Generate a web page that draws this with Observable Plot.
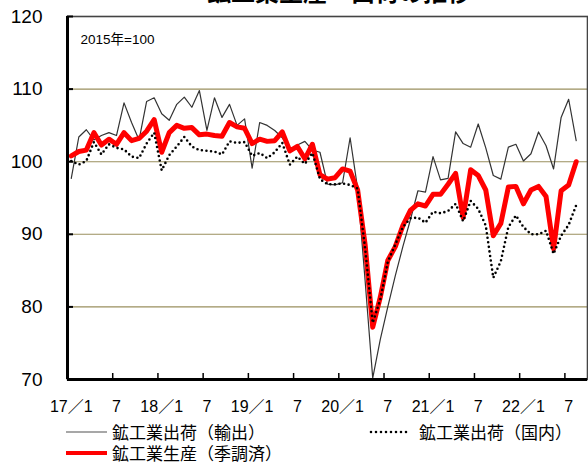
<!DOCTYPE html>
<html>
<head>
<meta charset="utf-8">
<script src="https://cdn.jsdelivr.net/npm/d3@7"></script>
<script src="https://cdn.jsdelivr.net/npm/@observablehq/plot@0.6"></script>
<style>
  html, body { margin: 0; padding: 0; background: #fff; }
  body { width: 588px; height: 462px; overflow: hidden; position: relative;
         font-family: "Liberation Sans", "Noto Sans CJK JP", sans-serif; color: #000; }
  #title { position: absolute; z-index: 2; top: -21px; left: 0; width: 588px; text-align: center;
           font: bold 24px "Noto Sans CJK JP"; line-height: 24px; padding-left: 90px; box-sizing: border-box; }
  #chart { position: absolute; z-index: 1; top: 0; left: 0; }
  .lg { position: absolute; z-index: 2; font-size: 17px; font-family: "Noto Sans CJK JP"; line-height: 18px; white-space: nowrap; }
  .sw { position: absolute; z-index: 2; }
</style>
</head>
<body>
<div id="chart"></div>
<div id="title">鉱工業生産・出荷の推移</div>
<svg class="sw" style="left:66px;top:429px" width="42" height="6"><line x1="0" y1="3" x2="41" y2="3" stroke="#8a8a8a" stroke-width="1.6"/></svg>
<div class="lg" style="left:112px;top:423px">鉱工業出荷（輸出）</div>
<svg class="sw" style="left:369px;top:429px" width="44" height="6"><line x1="2" y1="3" x2="42" y2="3" stroke="#000" stroke-width="2.6" stroke-dasharray="0 5" stroke-linecap="round"/></svg>
<div class="lg" style="left:419px;top:423px">鉱工業出荷（国内）</div>
<svg class="sw" style="left:66px;top:449px" width="42" height="8"><line x1="0" y1="4" x2="41" y2="4" stroke="#ff0000" stroke-width="4"/></svg>
<div class="lg" style="left:112px;top:444px">鉱工業生産（季調済）</div>
<script>
// Monthly values, 2017/1 .. 2022/8 (2015 = 100)
const exportsShip = [
  97.7, 103.4, 104.4, 103.0, 103.6, 104.0, 103.6, 108.1, 105.4, 103.0, 108.3, 108.8,
  106.6, 105.7, 107.9, 108.9, 107.5, 109.8, 104.3, 108.8, 106.1, 107.9, 105.0, 105.9,
  99.1, 105.4, 105.0, 104.3, 103.3, 101.6, 102.3, 102.8, 101.6, 101.3, 96.9, 96.8,
  97.1, 103.3, 96.3, 83.5, 70.2, 75.5, 80.0, 84.3, 88.3, 92.0, 96.0, 95.8,
  100.7, 97.5, 97.7, 104.1, 102.5, 102.0, 105.2, 101.9, 98.1, 97.6, 102.0, 102.4,
  100.1, 101.1, 104.1, 102.2, 99.0, 106.1, 108.6, 102.9
];
const domesticShip = [
  100.1, 99.6, 100.1, 102.7, 101.0, 102.4, 101.9, 101.7, 100.7, 100.5, 102.5, 104.0,
  98.8, 100.9, 102.1, 103.4, 102.1, 101.6, 101.5, 101.4, 101.0, 102.8, 102.6, 102.7,
  100.8, 101.2, 100.5, 101.3, 102.6, 99.6, 100.7, 99.7, 101.2, 97.6, 96.9, 96.9,
  97.0, 96.8, 96.3, 88.0, 77.8, 81.0, 86.2, 88.6, 91.0, 92.2, 92.3, 91.6,
  93.1, 92.9, 93.2, 94.2, 91.8, 94.6, 93.5, 91.2, 84.0, 86.3, 91.0, 92.6,
  91.0, 90.0, 90.0, 90.5, 87.3, 89.8, 91.3, 94.0
];
const production = [
  100.8, 101.4, 101.6, 104.0, 102.3, 103.1, 102.4, 104.0, 102.9, 103.2, 104.2, 105.8,
  101.3, 104.0, 105.0, 104.6, 104.7, 103.7, 103.8, 103.6, 103.5, 105.4, 104.8, 104.6,
  102.5, 103.1, 102.8, 102.9, 104.1, 101.5, 102.1, 100.4, 102.4, 98.2, 97.6, 97.8,
  99.0, 98.7, 96.1, 88.5, 77.2, 81.3, 86.4, 88.3, 91.2, 93.3, 94.2, 93.9,
  95.5, 95.5, 96.9, 98.4, 92.3, 98.9, 98.1, 96.1, 89.8, 91.5, 96.5, 96.6,
  94.2, 96.1, 96.6, 95.2, 88.0, 96.0, 96.8, 100.0
];
const xTickLabels = ["17／1", "7", "18／1", "7", "19／1", "7", "20／1", "7", "21／1", "7", "22／1", "7"];
const monthsPerLabel = 6;
const axisCategories = exportsShip.length + 1; // axis runs through 22/9
const yTicks = [70, 80, 90, 100, 110, 120];
const gridValues = [80, 90, 100, 110];
const baseNote = "2015年=100";

const labelIdx = xTickLabels.map((_, k) => k * monthsPerLabel);
const boundaryIdx = labelIdx.map(i => i - 0.5);
const xDomain = [-0.5, axisCategories - 0.5];
const yDomain = [yTicks[0], yTicks[yTicks.length - 1]];
const idx = (d, i) => i;
const val = d => d;

const chart = Plot.plot({
  width: 588,
  height: 420,
  marginLeft: 67,
  marginRight: 1,
  marginTop: 16,
  marginBottom: 41,
  style: {fontFamily: '"Liberation Sans", "Noto Sans CJK JP", sans-serif', background: "transparent", color: "#000"},
  x: {domain: xDomain, axis: null},
  y: {domain: yDomain, axis: null},
  marks: [
    Plot.ruleY(gridValues, {stroke: "#9a8f5e", strokeWidth: 1.1}),
    Plot.frame({stroke: "#444", strokeWidth: 1.6}),
    Plot.line(exportsShip, {x: idx, y: val, stroke: "#333", strokeWidth: 1.2}),
    Plot.line(production, {x: idx, y: val, stroke: "#ff0000", strokeWidth: 5, strokeLinejoin: "round"}),
    Plot.line(domesticShip, {x: idx, y: val, stroke: "#000", strokeWidth: 2.6, strokeDasharray: "0 4.6", strokeLinecap: "round"}),
    Plot.ruleX([xDomain[0]], {stroke: "#000", strokeWidth: 3}),
    Plot.ruleY([yDomain[0]], {stroke: "#000", strokeWidth: 3}),
    Plot.axisY(yTicks, {anchor: "left", tickSize: 6, dx: 6, tickFormat: () => "", strokeWidth: 2}),
    Plot.axisY(yTicks, {anchor: "left", tickSize: 0, tickPadding: 25, fontSize: 19}),
    Plot.axisX(boundaryIdx, {anchor: "bottom", tickSize: 6, dy: -6, tickFormat: () => "", strokeWidth: 1.5}),
    Plot.axisX(labelIdx, {anchor: "bottom", tickSize: 0, tickPadding: 21, fontSize: 16,
      tickFormat: d => xTickLabels[labelIdx.indexOf(d)]}),
    Plot.text([baseNote], {frameAnchor: "top-left", dx: 13, dy: 18, fontSize: 13.5, textAnchor: "start"})
  ]
});
document.getElementById("chart").appendChild(chart);
</script>
</body>
</html>
